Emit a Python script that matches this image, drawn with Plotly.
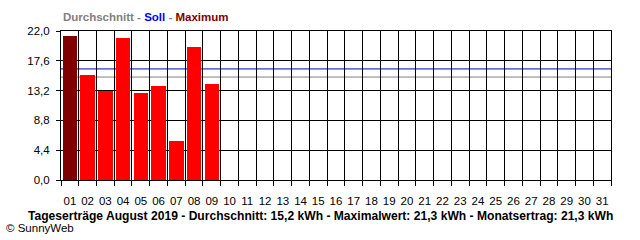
import plotly.graph_objects as go

days = list(range(1, 32))
day_labels = [f"{d:02d}" for d in days]
day_bounds = [d - 0.5 for d in days] + [days[-1] + 0.5]
values = [21.3, 15.5, 13.1, 20.9, 12.8, 13.9, 5.8, 19.7, 14.2]
avg_value = 15.2
soll_value = 16.4
y_ticks = [0.0, 4.4, 8.8, 13.2, 17.6, 22.0]
y_tick_labels = ["0,0", "4,4", "8,8", "13,2", "17,6", "22,0"]
max_value = max(values)
bar_colors = ["#800000" if v == max_value else "#ff0000" for v in values]

FONT = "Liberation Sans, Arial, sans-serif"
x_range = [day_bounds[0], day_bounds[-1]]

fig = go.Figure()
fig.add_trace(go.Bar(x=days[:len(values)], y=values, marker=dict(color=bar_colors, line=dict(width=0)),
                     width=0.82, showlegend=False))

fig.add_hline(y=avg_value, line=dict(color="#808080", width=1), layer="below")
fig.add_hline(y=soll_value, line=dict(color="#0000cc", width=1), layer="below")

fig.update_layout(
    width=640, height=240,
    margin=dict(l=61, r=29, t=31, b=60),
    paper_bgcolor="white", plot_bgcolor="white",
    font=dict(family=FONT, size=11, color="black"),
    bargap=0,
    xaxis=dict(
        range=x_range, tickmode="array", tickvals=days, ticktext=day_labels,
        showgrid=False, zeroline=False, showline=True, linecolor="black", linewidth=1, mirror=True,
        ticks="outside", ticklen=10, tickcolor="rgba(0,0,0,0)",
        tickfont=dict(family=FONT, size=11.5, color="black"),
    ),
    xaxis2=dict(
        overlaying="x", side="bottom", range=x_range, tickmode="array", tickvals=day_bounds,
        showticklabels=False, ticks="outside", ticklen=5, tickcolor="black", tickwidth=1,
        showgrid=True, gridcolor="black", gridwidth=1, zeroline=False, showline=False,
    ),
    yaxis=dict(
        range=[0, 22], tickmode="array", tickvals=y_ticks, ticktext=y_tick_labels,
        showgrid=True, gridcolor="black", gridwidth=1, zeroline=False,
        showline=True, linecolor="black", linewidth=1, mirror=True,
        ticks="outside", ticklen=4, tickcolor="black", ticklabelstandoff=4,
        tickfont=dict(family=FONT, size=11.5, color="black"),
    ),
)
# invisible helper trace so the overlay axis is drawn
fig.add_trace(go.Scatter(x=x_range, y=[None, None], xaxis="x2", mode="lines", showlegend=False,
                         hoverinfo="skip"))

fig.add_annotation(
    text="<b><span style='color:#808080'>Durchschnitt</span> - <span style='color:#0000ff'>Soll</span>"
         " - <span style='color:#800000'>Maximum</span></b>",
    xref="paper", yref="paper", x=0, y=1, xanchor="left", yanchor="bottom", yshift=6,
    showarrow=False, font=dict(family=FONT, size=11.5, color="#808080"),
)
fig.add_annotation(
    text="<b>Tageserträge August 2019 - Durchschnitt: 15,2 kWh - Maximalwert: 21,3 kWh - Monatsertrag: 21,3 kWh</b>",
    xref="paper", yref="paper", x=(320.5 - 61) / 550, y=0, xanchor="center", yanchor="middle", yshift=-36,
    showarrow=False, font=dict(family=FONT, size=12.1, color="black"),
)
fig.add_annotation(
    text="© SunnyWeb",
    xref="paper", yref="paper", x=-61/550, y=0, xanchor="left", yanchor="middle", xshift=4, yshift=-48,
    showarrow=False, font=dict(family=FONT, size=11.5, color="black"),
)

fig.write_html("out.html")
